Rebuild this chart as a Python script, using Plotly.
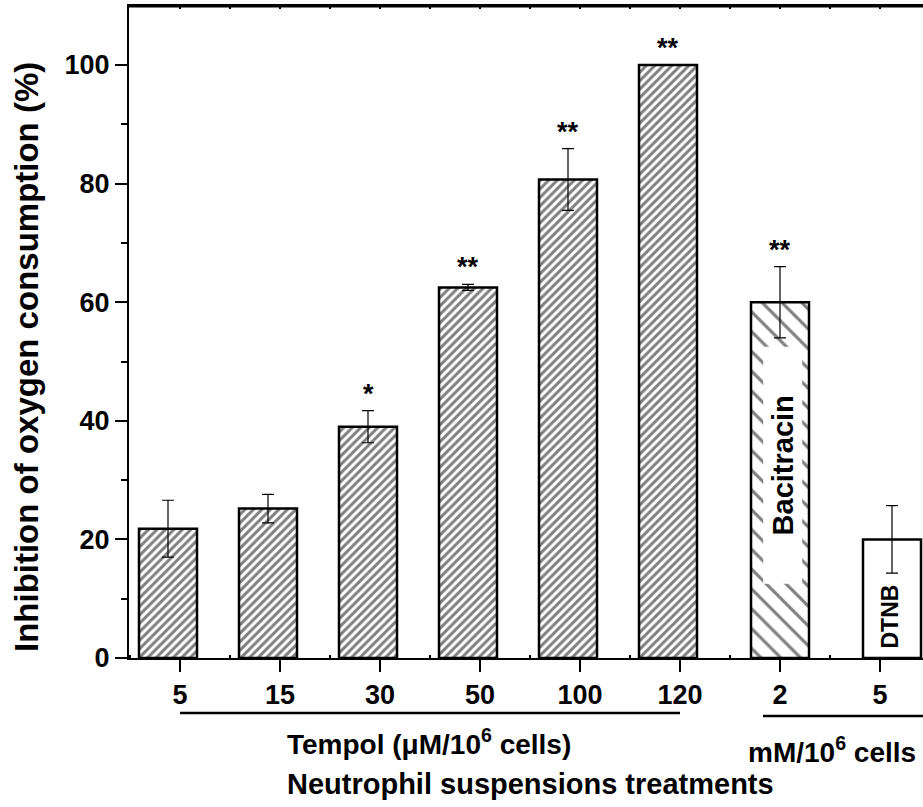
import plotly.graph_objects as go

# Inhibition of neutrophil oxygen consumption (%), mean and SEM
tempol_doses = ["5", "15", "30", "50", "100", "120"]
tempol_inhibition = [21.8, 25.2, 39.0, 62.5, 80.7, 100.0]
tempol_sem = [4.8, 2.4, 2.7, 0.5, 5.2, 0.0]
tempol_sig = ["", "", "*", "**", "**", "**"]

bacitracin_dose = ["2"]
bacitracin_inhibition = [60.0]
bacitracin_sem = [6.0]
bacitracin_sig = ["**"]

dtnb_dose = ["5"]
dtnb_inhibition = [20.0]
dtnb_sem = [5.7]
dtnb_sig = [""]

y_ticks = [0, 20, 40, 60, 80, 100]

FONT = "Liberation Sans, Arial, Helvetica, sans-serif"
BAR_W = 0.58

# slot index for each group along the category axis
n_t = len(tempol_doses)
tempol_x = [i - 0.12 for i in range(n_t)]
bacitracin_x = [n_t + 0.0]
dtnb_x = [n_t + 1 + 0.12]
all_labels = tempol_doses + bacitracin_dose + dtnb_dose
n_all = len(all_labels)

# plot box: 0 % sits 149 px above the bottom edge, 5.93 px per percent
TOP_PX = 6
PLOT_H = 807 - 149 - TOP_PX
Y_MAX = PLOT_H / 5.93


def py(px_from_top):
    return (807 - 149 - px_from_top) / PLOT_H


def err(arr):
    return dict(type="data", array=arr, color="black", thickness=1.2, width=6)


def bold(size):
    return dict(family=FONT, size=size, color="black", weight="bold")


fig = go.Figure()
fig.add_trace(go.Bar(
    x=tempol_x, y=tempol_inhibition, width=BAR_W, showlegend=False,
    marker=dict(color="white", line=dict(color="black", width=2.5),
                pattern=dict(shape="/", size=6, solidity=0.5,
                             fgcolor="black", bgcolor="white")),
    error_y=err(tempol_sem),
))
fig.add_trace(go.Bar(
    x=bacitracin_x, y=bacitracin_inhibition, width=BAR_W, showlegend=False,
    marker=dict(color="white", line=dict(color="black", width=2.5),
                pattern=dict(shape="\\", size=14, solidity=0.22,
                             fgcolor="black", bgcolor="white")),
    error_y=err(bacitracin_sem),
))
fig.add_trace(go.Bar(
    x=dtnb_x, y=dtnb_inhibition, width=BAR_W, showlegend=False, xaxis="x2",
    marker=dict(color="white", line=dict(color="black", width=2.5)),
    error_y=err(dtnb_sem),
))

annotations = []
# significance marks above the error bars
for xs, vals, sems, sigs in [
    (tempol_x, tempol_inhibition, tempol_sem, tempol_sig),
    (bacitracin_x, bacitracin_inhibition, bacitracin_sem, bacitracin_sig),
    (dtnb_x, dtnb_inhibition, dtnb_sem, dtnb_sig),
]:
    for x, v, s, g in zip(xs, vals, sems, sigs):
        if g:
            annotations.append(dict(
                x=x, y=v + s, xref="x", yref="y", text=g, showarrow=False,
                xanchor="center", yanchor="bottom", yshift=0, font=bold(27)))

# in-bar treatment names
annotations.append(dict(
    x=bacitracin_x[0] + 0.03, y=32.5, xref="x", yref="y", text="Bacitracin",
    showarrow=False, textangle=-90, bgcolor="white", width=234, height=36,
    xanchor="center", yanchor="middle", font=bold(29)))
annotations.append(dict(
    x=dtnb_x[0] - 0.02, y=7.0, xref="x", yref="y", text="DTNB",
    showarrow=False, textangle=-90, xanchor="center", yanchor="middle",
    font=bold(23)))

# group captions under the axis
annotations.append(dict(
    x=2.49, y=py(742), xref="x", yref="paper", text="Tempol (μM/10<sup>6</sup> cells)",
    showarrow=False, xanchor="center", yanchor="middle", font=bold(28)))
annotations.append(dict(
    x=6.52, y=py(750), xref="x", yref="paper", text="mM/10<sup>6</sup> cells",
    showarrow=False, xanchor="center", yanchor="middle", font=bold(28)))
annotations.append(dict(
    x=3.5, y=py(784), xref="x", yref="paper", text="Neutrophil suspensions treatments",
    showarrow=False, xanchor="center", yanchor="middle", font=bold(29)))
annotations.append(dict(
    x=-0.1297, y=py(357), xref="paper", yref="paper",
    text="Inhibition of oxygen consumption (%)", textangle=-90, showarrow=False,
    xanchor="center", yanchor="middle", font=bold(33)))

shapes = [
    # frame top edge, drawn as a thin filled band
    dict(type="rect", xref="paper", yref="paper", x0=0, x1=1,
         y0=py(7.5), y1=py(4.5), fillcolor="black", line=dict(width=0),
         layer="above"),
    # group brackets under the tick labels
    dict(type="line", xref="x", yref="paper", x0=0, x1=n_t - 1, y0=py(713), y1=py(713),
         line=dict(color="black", width=2.5)),
    dict(type="line", xref="x", yref="paper", x0=5.83, x1=7.43, y0=py(716), y1=py(716),
         line=dict(color="black", width=2.5)),
]

x_range = [-0.51, 7.43]
half_ticks = [i + 0.5 for i in range(-1, n_all)]

fig.update_layout(
    width=923, height=807,
    margin=dict(l=129, r=0, t=TOP_PX, b=149),
    plot_bgcolor="white", paper_bgcolor="white",
    barmode="overlay",
    annotations=annotations,
    shapes=shapes,
    xaxis=dict(
        range=x_range, tickvals=list(range(n_all)), ticktext=all_labels,
        ticks="outside", ticklen=12, tickwidth=2, tickcolor="black",
        showline=True, linewidth=2, linecolor="black",
        showgrid=False, zeroline=False,
        tickfont=bold(27),
        minor=dict(ticks="inside", ticklen=3, tickwidth=1.5, tickcolor="black",
                   tickvals=half_ticks, showgrid=False),
    ),
    xaxis2=dict(
        overlaying="x", side="top", anchor="y", range=x_range,
        showline=True, linewidth=2, linecolor="black",
        ticks="inside", ticklen=3, tickwidth=1.5, tickcolor="black",
        tickvals=sorted(list(range(n_all)) + half_ticks), showticklabels=False,
        showgrid=False, zeroline=False,
    ),
    yaxis=dict(
        range=[0, Y_MAX], tickvals=y_ticks,
        ticks="outside", ticklen=12, tickwidth=2, tickcolor="black",
        showline=True, linewidth=2, linecolor="black",
        showgrid=False, zeroline=False,
        tickfont=bold(27),
        minor=dict(ticks="outside", ticklen=6, tickwidth=2, tickcolor="black",
                   tickvals=[10, 30, 50, 70, 90], showgrid=False),
    ),
)

fig.write_html("out.html")
